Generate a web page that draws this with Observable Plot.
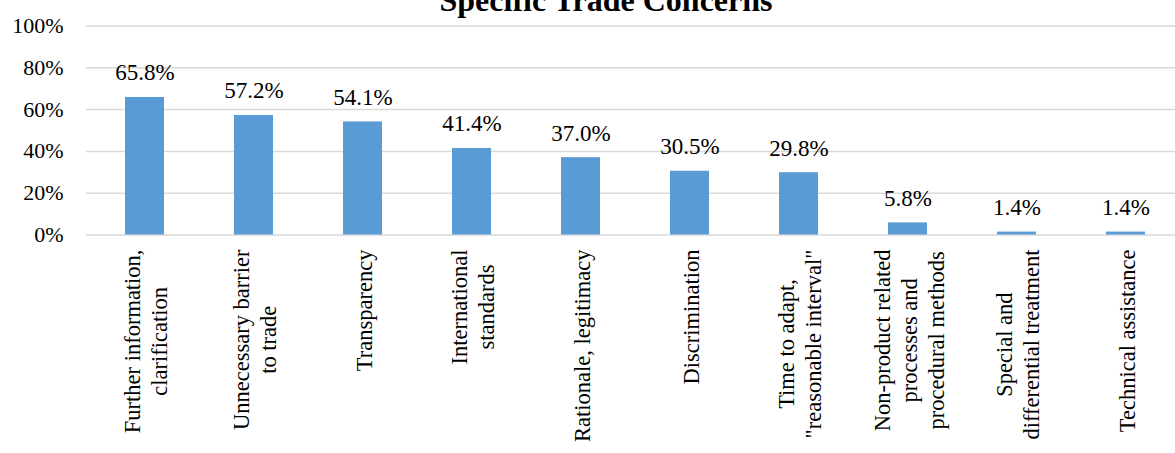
<!DOCTYPE html>
<html><head><meta charset="utf-8">
<script src="https://cdn.jsdelivr.net/npm/d3@7"></script>
<script src="https://cdn.jsdelivr.net/npm/@observablehq/plot@0.6"></script>
<style>body{margin:0;background:#fff}#chart svg{display:block}#chart svg text{font-family:"Liberation Serif","Times New Roman",serif}</style>
</head><body><div id="chart"></div>
<script>
const title = "Specific Trade Concerns";
const categories = [
  "Further information, clarification",
  "Unnecessary barrier to trade",
  "Transparency",
  "International standards",
  "Rationale, legitimacy",
  "Discrimination",
  "Time to adapt, \"reasonable interval\"",
  "Non-product related processes and procedural methods",
  "Special and differential treatment",
  "Technical assistance"
];
const categoryLabels = [
  "Further information,\nclarification",
  "Unnecessary barrier\nto trade",
  "Transparency",
  "International\nstandards",
  "Rationale, legitimacy",
  "Discrimination",
  "Time to adapt,\n\"reasonable interval\"",
  "Non-product related\nprocesses and\nprocedural methods",
  "Special and\ndifferential treatment",
  "Technical assistance"
];
const values = [65.8, 57.2, 54.1, 41.4, 37.0, 30.5, 29.8, 5.8, 1.4, 1.4];
const yTicks = [0, 20, 40, 60, 80, 100];

const W = 1175, H = 453;
const FONT = '"Liberation Serif", "Times New Roman", serif';
const labelSize = 22.5;
const ctx = document.createElement("canvas").getContext("2d");
ctx.font = `${labelSize}px "Liberation Serif"`;
const maxLineWidth = s => Math.max(...s.split("\n").map(l => ctx.measureText(l).width));

const data = categories.map((c, i) => ({category: c, value: values[i], label: categoryLabels[i]}));

const plotTop = 25.5, plotBottom = 234.5;

const chart = Plot.plot({
  width: W, height: H,
  marginTop: plotTop, marginBottom: H - plotBottom, marginLeft: 86, marginRight: 0,
  style: {fontFamily: FONT, color: "#000", background: "#fff"},
  x: {domain: categories, range: [86, 1183.4], paddingInner: 0.645, paddingOuter: 0.3225, axis: null},
  y: {domain: [0, 100]},
  marks: [
    Plot.ruleY(yTicks, {stroke: "#d9d9d9", strokeWidth: 1.5}),
    Plot.barY(data, {x: "category", y: "value", fill: "#5b9bd5"}),
    Plot.text(data, {x: "category", y: "value", text: d => d.value.toFixed(1) + "%", dy: -17, lineAnchor: "bottom", fontSize: 23, fontFamily: FONT, fill: "#000"}),
    Plot.axisY(yTicks, {anchor: "left", tickSize: 0, tickPadding: 23, tickFormat: d => d + "%", fontSize: 22, fontFamily: FONT, label: null, fill: "#000"}),
    ...data.map(d => Plot.text([d], {
      x: "category", frameAnchor: "bottom", text: "label", rotate: -90,
      textAnchor: "middle", lineAnchor: "middle", lineHeight: 1.2,
      dy: 14.5 + maxLineWidth(d.label) / 2, fontSize: labelSize, fontFamily: FONT, fill: "#000"
    })),
    Plot.text([title], {frameAnchor: "top", dx: -25, dy: -15.5, lineAnchor: "bottom", fontWeight: "bold", fontSize: 32, fontFamily: FONT, fill: "#000"})
  ]
});
document.getElementById("chart").append(chart);
</script>
</body></html>
